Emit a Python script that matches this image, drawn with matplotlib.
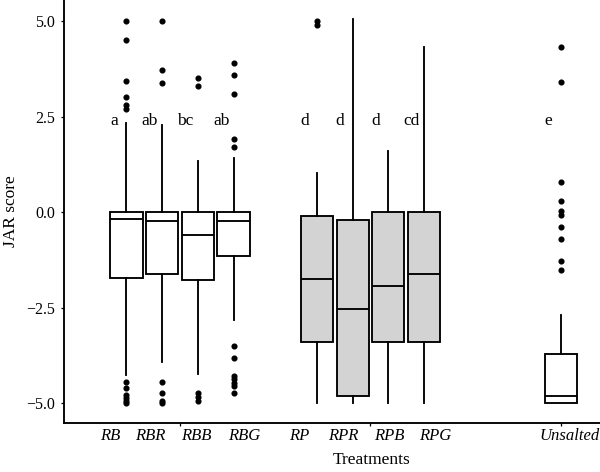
import numpy as np
import matplotlib
matplotlib.use('Agg')
import matplotlib.pyplot as plt

plt.rcParams['font.family'] = ['Liberation Serif', 'DejaVu Serif']

# treatments, group (tick) and dodge offset
names = ['RB', 'RBR', 'RBB', 'RBG', 'RP', 'RPR', 'RPB', 'RPG', 'Unsalted']
group = [1, 1, 1, 1, 2, 2, 2, 2, 3]
dodge = [-0.28125, -0.09375, 0.09375, 0.28125, -0.28125, -0.09375, 0.09375, 0.28125, 0.0]
letters = ['a', 'ab', 'bc', 'ab', 'd', 'd', 'd', 'cd', 'e']

# box stats
q1 = [-1.73, -1.62, -1.77, -1.14, -3.40, -4.80, -3.40, -3.40, -5.0]
med = [-0.17, -0.22, -0.61, -0.22, -1.74, -2.54, -1.92, -1.61, -4.82]
q3 = [0.0, 0.0, 0.0, 0.0, -0.10, -0.20, 0.0, 0.0, -3.71]
wlo = [-4.27, -3.92, -4.23, -2.82, -5.0, -5.0, -5.0, -5.0, -5.0]
whi = [2.33, 2.28, 1.33, 1.41, 1.02, 5.05, 1.61, 4.33, -2.69]
fliers = [
    [5.0, 4.5, 3.42, 3.0, 2.8, 2.7, -4.43, -4.61, -4.78, -4.87, -4.95, -5.0],
    [5.0, 3.72, 3.39, -4.43, -4.72, -4.93, -5.0],
    [3.5, 3.3, -4.73, -4.83, -4.93],
    [3.91, 3.59, 3.1, 1.91, 1.7, -3.51, -3.82, -4.28, -4.37, -4.46, -4.54, -4.72],
    [5.0, 4.9],
    [],
    [],
    [],
    [4.32, 3.41, 0.80, 0.28, 0.04, -0.07, -0.39, -0.71, -1.29, -1.51],
]
fills = ['white'] * 4 + ['#d3d3d3'] * 4 + ['white']

# x positions of the category labels below the axis
label_x = [0.633, 0.845, 1.084, 1.336, 1.627, 1.856, 2.097, 2.339, 3.047]

pos = [g + d for g, d in zip(group, dodge)]
stats = []
for i in range(len(names)):
    stats.append(dict(med=med[i], q1=q1[i], q3=q3[i], whislo=wlo[i], whishi=whi[i],
                      fliers=fliers[i], label=names[i]))

fig = plt.figure(figsize=(6.0, 4.72), dpi=100)
ax = fig.add_axes([64/600, 49/472, 536/600, 423/472])

lw = 1.35
bp = ax.bxp(stats, positions=pos, widths=0.169, showcaps=False, patch_artist=True,
            boxprops=dict(edgecolor='black', linewidth=lw),
            medianprops=dict(color='black', linewidth=lw),
            whiskerprops=dict(color='black', linewidth=lw),
            flierprops=dict(marker='o', markerfacecolor='black', markeredgecolor='black',
                            markersize=3.4))
for b, c in zip(bp['boxes'], fills):
    b.set_facecolor(c)

for p, l in zip(pos, letters):
    ax.text(p - 0.065, 2.28, l, ha='center', va='baseline', fontsize=12.5)

trans = ax.get_xaxis_transform()
for x, n in zip(label_x, names):
    ax.text(x, -0.031, n, ha='center', va='center', style='italic', fontsize=12,
            transform=trans)

ax.set_xlim(0.391, 3.205)
ax.set_ylim(-5.515, 5.55)
ax.set_xticks([1, 2, 3])
ax.set_xticklabels([])
ax.set_yticks([-5.0, -2.5, 0.0, 2.5, 5.0])
ax.set_yticklabels(['\u22125.0', '\u22122.5', '0.0', '2.5', '5.0'])
ax.tick_params(axis='both', length=2.5, width=0.9, labelsize=11.5, pad=4)

for s in ['top', 'right']:
    ax.spines[s].set_visible(False)
for s in ['left', 'bottom']:
    ax.spines[s].set_linewidth(lw)

ax.set_ylabel('JAR score', fontsize=12.5, labelpad=5)
ax.text((372 - 64) / 536, (423 - 460) / 423, 'Treatments', ha='center', va='center',
        fontsize=12.5, transform=ax.transAxes)

fig.savefig('out.png', dpi=100)
